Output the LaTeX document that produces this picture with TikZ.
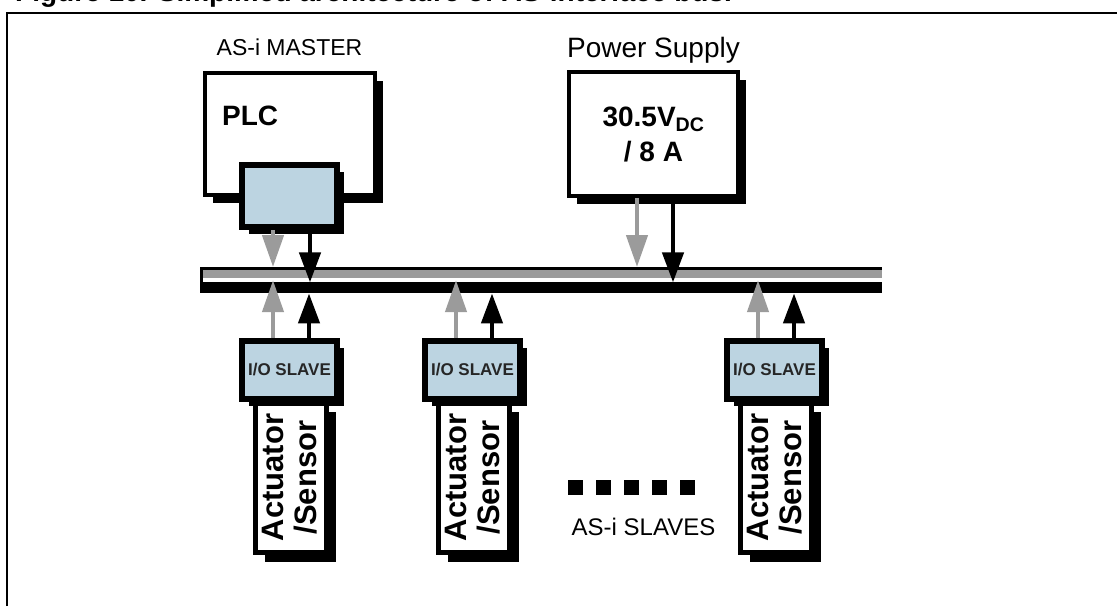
\documentclass[tikz,border=0pt]{standalone}
\usepackage{fontspec}
\setmainfont{Liberation Sans}
\usepackage{xcolor}
\usepackage{tikz}
\usetikzlibrary{arrows.meta, shadows}

\definecolor{ioblue}{RGB}{188,212,225}
\definecolor{busgray}{RGB}{155,155,155}

\begin{document}
\begin{tikzpicture}[x=1pt, y=-1pt,
  box/.style={draw=black, line width=4pt, fill=white,
    drop shadow={shadow xshift=8pt, shadow yshift=-8pt, opacity=1, fill=black}},
  iobox/.style={draw=black, line width=6pt, fill=ioblue, inner sep=0pt,
    minimum width=95pt, minimum height=58pt,
    drop shadow={shadow xshift=7pt, shadow yshift=-7pt, opacity=1, fill=black},
    font=\bfseries\fontsize{17}{20}\selectfont, text=black!85},
  devbox/.style={draw=black, line width=5pt, fill=white, inner sep=0pt,
    minimum width=71pt, minimum height=150pt,
    drop shadow={shadow xshift=9pt, shadow yshift=-9pt, opacity=1, fill=black}},
  devtext/.style={rotate=90, align=center, inner sep=0pt,
    font=\bfseries\fontsize{31}{33}\selectfont},
  tag/.style={anchor=base, inner sep=0pt, font=\fontsize{24}{28}\selectfont},
  grayarrow/.style={draw=busgray, line width=4.5pt, -{Triangle[length=32pt, width=21pt]}},
  blackarrow/.style={draw=black, line width=4.5pt, -{Triangle[length=30pt, width=21pt]}},
  strip/.style={inner sep=0pt, anchor=north west}]
\useasboundingbox (0,0) rectangle (1117,606);

% caption and frame
\node[anchor=base west, inner sep=0pt, font=\bfseries\fontsize{28}{32}\selectfont] (title) at (15,1)
  {Figure 10. Simplified architecture of AS-interface bus.};
\draw[line width=2pt] (7,606) -- (7,13) -- (1117,13);

% the bus
\node[strip, fill=black, minimum width=682pt, minimum height=26pt] (bus) at (200,267) {};
\node[strip, fill=busgray, minimum width=679pt, minimum height=8.5pt] (graybar) at (203,269.5) {};
\node[strip, fill=white, minimum width=679pt, minimum height=4pt] (gap) at (203,278) {};

% master
\node[tag, font=\fontsize{23}{27}\selectfont] (master) at (289.5,55) {AS-i MASTER};
\node[box, minimum width=170pt, minimum height=122pt] (plc) at (290,134) {};
\node[anchor=base west, inner sep=0pt, font=\bfseries\fontsize{28}{34}\selectfont] (plctext) at (222,125) {PLC};
\node[iobox, minimum height=62pt] (plcio) at (289.5,196) {};
\draw[grayarrow] ([xshift=-16.5pt]plcio.south) -- ([xshift=-16.5pt]plcio.south |- bus.north);
\draw[blackarrow] ([xshift=20.5pt]plcio.south) -- ([xshift=20.5pt]plcio.south |- gap.south);

% power supply
\node[tag, font=\fontsize{28}{34}\selectfont] (supply) at (653.5,57) {Power Supply};
\node[box, minimum width=169pt, minimum height=124pt, align=center,
  font=\bfseries\fontsize{28}{35}\selectfont] (psu) at (653.5,134) {30.5V\textsubscript{DC}\\/ 8 A};
\draw[grayarrow] ([xshift=-16.5pt]psu.south) -- ([xshift=-16.5pt]psu.south |- bus.north);
\draw[blackarrow] ([xshift=19.5pt]psu.south) -- ([xshift=19.5pt]psu.south |- gap.south);

% slaves
\foreach \n/\cx in {1/289.5, 2/472.5, 3/774.5} {
  \node[devbox] (dev\n) at ({\cx+1.5},477.5) {};
  \node[iobox] (slave\n) at (\cx,370) {I/O SLAVE};
  \node[devtext] (devlabel\n) at (slave\n |- dev\n) {Actuator\\/Sensor};
  \draw[grayarrow] ([xshift=-16.5pt]slave\n.north) -- ([xshift=-16.5pt]slave\n.north |- gap.center);
  \draw[blackarrow] ([xshift=19.5pt]slave\n.north) -- ([xshift=19.5pt]slave\n.north |- bus.south);
}

\foreach \i in {0,...,4}
  \fill ({568+28*\i},480) rectangle ++(15,15);
\node[tag] (slaves) at (643.5,535) {AS-i SLAVES};
\end{tikzpicture}
\end{document}
